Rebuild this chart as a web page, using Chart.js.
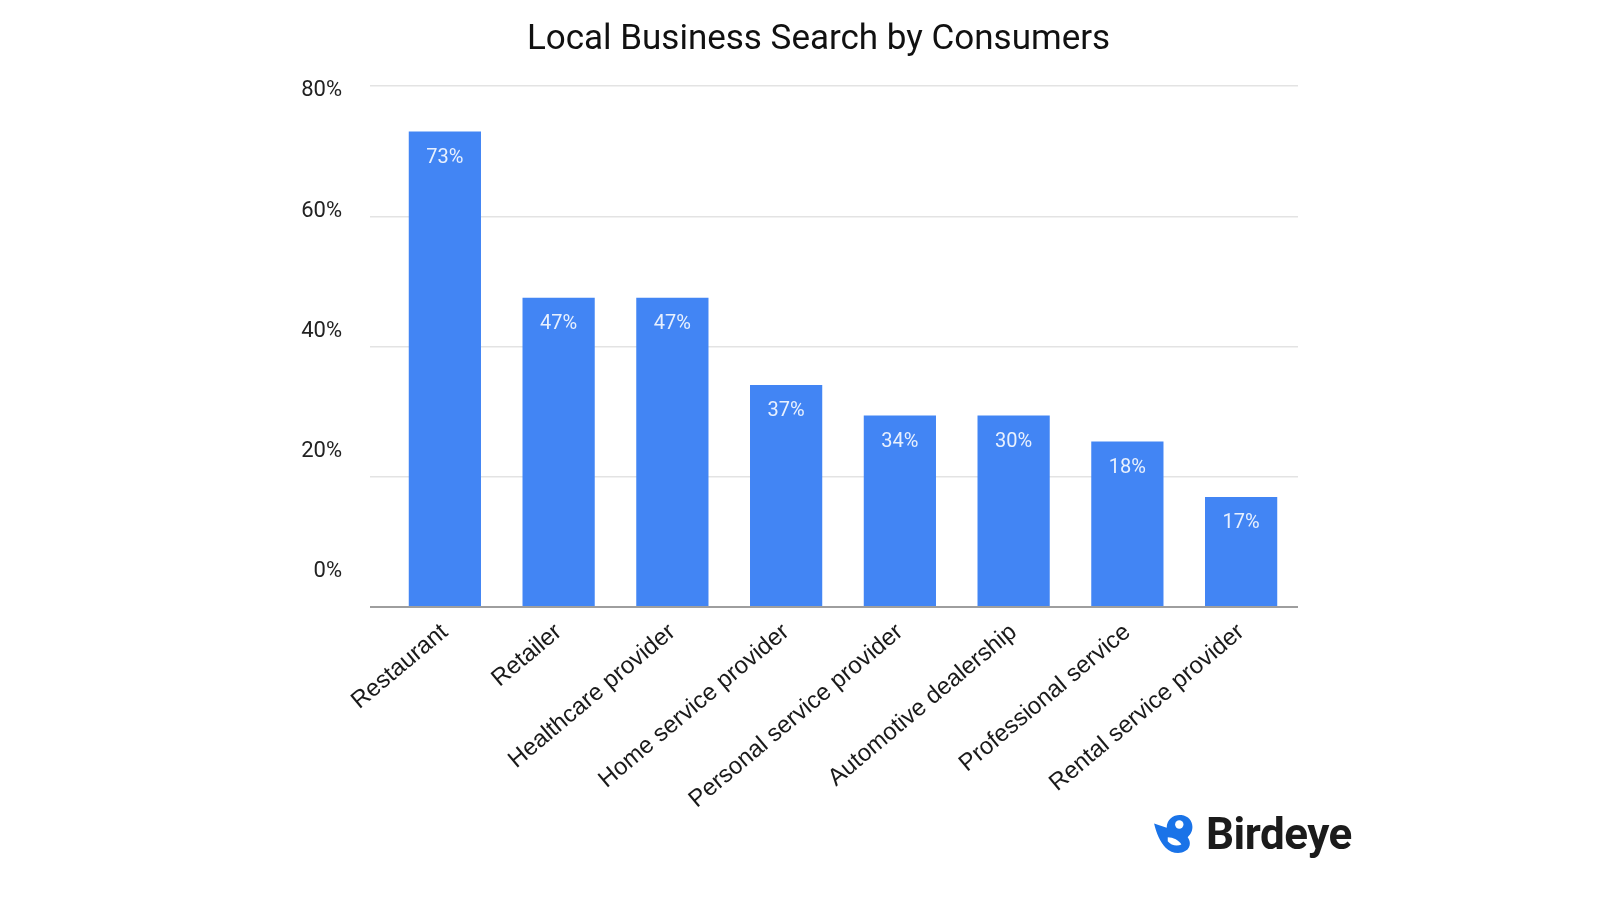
<!DOCTYPE html>
<html>
<head>
<meta charset="utf-8">
<script src="https://cdn.jsdelivr.net/npm/chart.js@4"></script>
<style>
  html, body { margin: 0; padding: 0; background: #fff; }
  #wrap { position: relative; width: 1600px; height: 900px; }
  #title { position: absolute; left: 0; width: 1637px; top: 17px; text-align: center;
    font: 35px Roboto, sans-serif; color: #111; margin: 0; line-height: 42px; }
  #logo { position: absolute; left: 1152px; top: 808px; display: flex; align-items: center; }
  #logo span { font: bold 44px Roboto, sans-serif; color: #1b1b1b; margin-left: 12px; letter-spacing: -0.5px; }
</style>
</head>
<body>
<div id="wrap">
  <canvas id="chart" width="1600" height="900"></canvas>
  <div id="title">Local Business Search by Consumers</div>
  <div id="logo">
    <svg width="42" height="40" viewBox="0 0 40 38">
      <path d="M2 9 L14 13 C14 4 22 0 28 1 C36 2 40 9 38 16 C37 19 35 21 34 22 C37 26 37 32 32 35 C26 39 18 37 13 32 C8 27 4 18 2 9 Z" fill="#1a73e8"/>
      <circle cx="26" cy="10" r="4" fill="#fff"/>
      <path d="M15 22 C20 22 26 25 28 29 C24 31 18 30 15 26 Z" fill="#fff"/>
    </svg>
    <span>Birdeye</span>
  </div>
</div>
<script>
const categories = ['Restaurant', 'Retailer', 'Healthcare provider', 'Home service provider',
  'Personal service provider', 'Automotive dealership', 'Professional service', 'Rental service provider'];
const barHeights = [73, 47.5, 47.5, 34.1, 29.4, 29.4, 25.4, 16.9];
const valueLabels = ['73%', '47%', '47%', '37%', '34%', '30%', '18%', '17%'];
const yTicks = [0, 20, 40, 60, 80];

const valueLabelPlugin = {
  id: 'valueLabels',
  afterDatasetsDraw(chart) {
    const ctx = chart.ctx;
    const meta = chart.getDatasetMeta(0);
    ctx.save();
    ctx.font = '20px Roboto, sans-serif';
    ctx.fillStyle = 'rgba(255,255,255,0.88)';
    ctx.textAlign = 'center';
    ctx.textBaseline = 'middle';
    meta.data.forEach((bar, i) => {
      ctx.fillText(valueLabels[i], bar.x, bar.y + 26);
    });
    ctx.restore();
  }
};

new Chart(document.getElementById('chart'), {
  type: 'bar',
  data: {
    labels: categories,
    datasets: [{
      data: barHeights,
      backgroundColor: '#4285f4',
      barPercentage: 0.635,
      categoryPercentage: 1,
      yAxisID: 'y'
    }]
  },
  options: {
    responsive: false,
    animation: false,
    layout: { padding: { top: 86, right: 302, left: 0, bottom: 0 } },
    plugins: { legend: { display: false }, tooltip: { enabled: false } },
    scales: {
      x: {
        grid: { display: false },
        border: { display: false },
        ticks: {
          font: { family: 'Liberation Sans', size: 24 },
          color: '#1a1a1a',
          minRotation: 40,
          maxRotation: 40,
          padding: 3
        },
        afterFit: (s) => { s.height = 293; }
      },
      // left tick labels sit a bit off the gridlines in the source picture
      yl: {
        position: 'left',
        weight: 1,
        min: -5.92,
        max: 80.83,
        afterBuildTicks: (s) => { s.ticks = yTicks.map(v => ({ value: v })); },
        grid: { display: false },
        border: { display: false },
        ticks: {
          font: { family: 'Roboto', size: 22 },
          color: '#222',
          padding: 38,
          callback: (v) => v + '%'
        },
        afterFit: (s) => { s.width = 388; }
      },
      y: {
        position: 'left',
        weight: 0,
        min: 0,
        max: 80,
        afterBuildTicks: (s) => { s.ticks = yTicks.map(v => ({ value: v })); },
        border: { display: false },
        grid: {
          color: (c) => c.tick && c.tick.value === 0 ? '#9e9e9e' : '#e3e3e3',
          lineWidth: (c) => c.tick && c.tick.value === 0 ? 2 : 1.5,
          tickLength: 18
        },
        ticks: { display: false },
        afterFit: (s) => { s.width = 0; }
      }
    }
  },
  plugins: [valueLabelPlugin]
});
</script>
</body>
</html>
